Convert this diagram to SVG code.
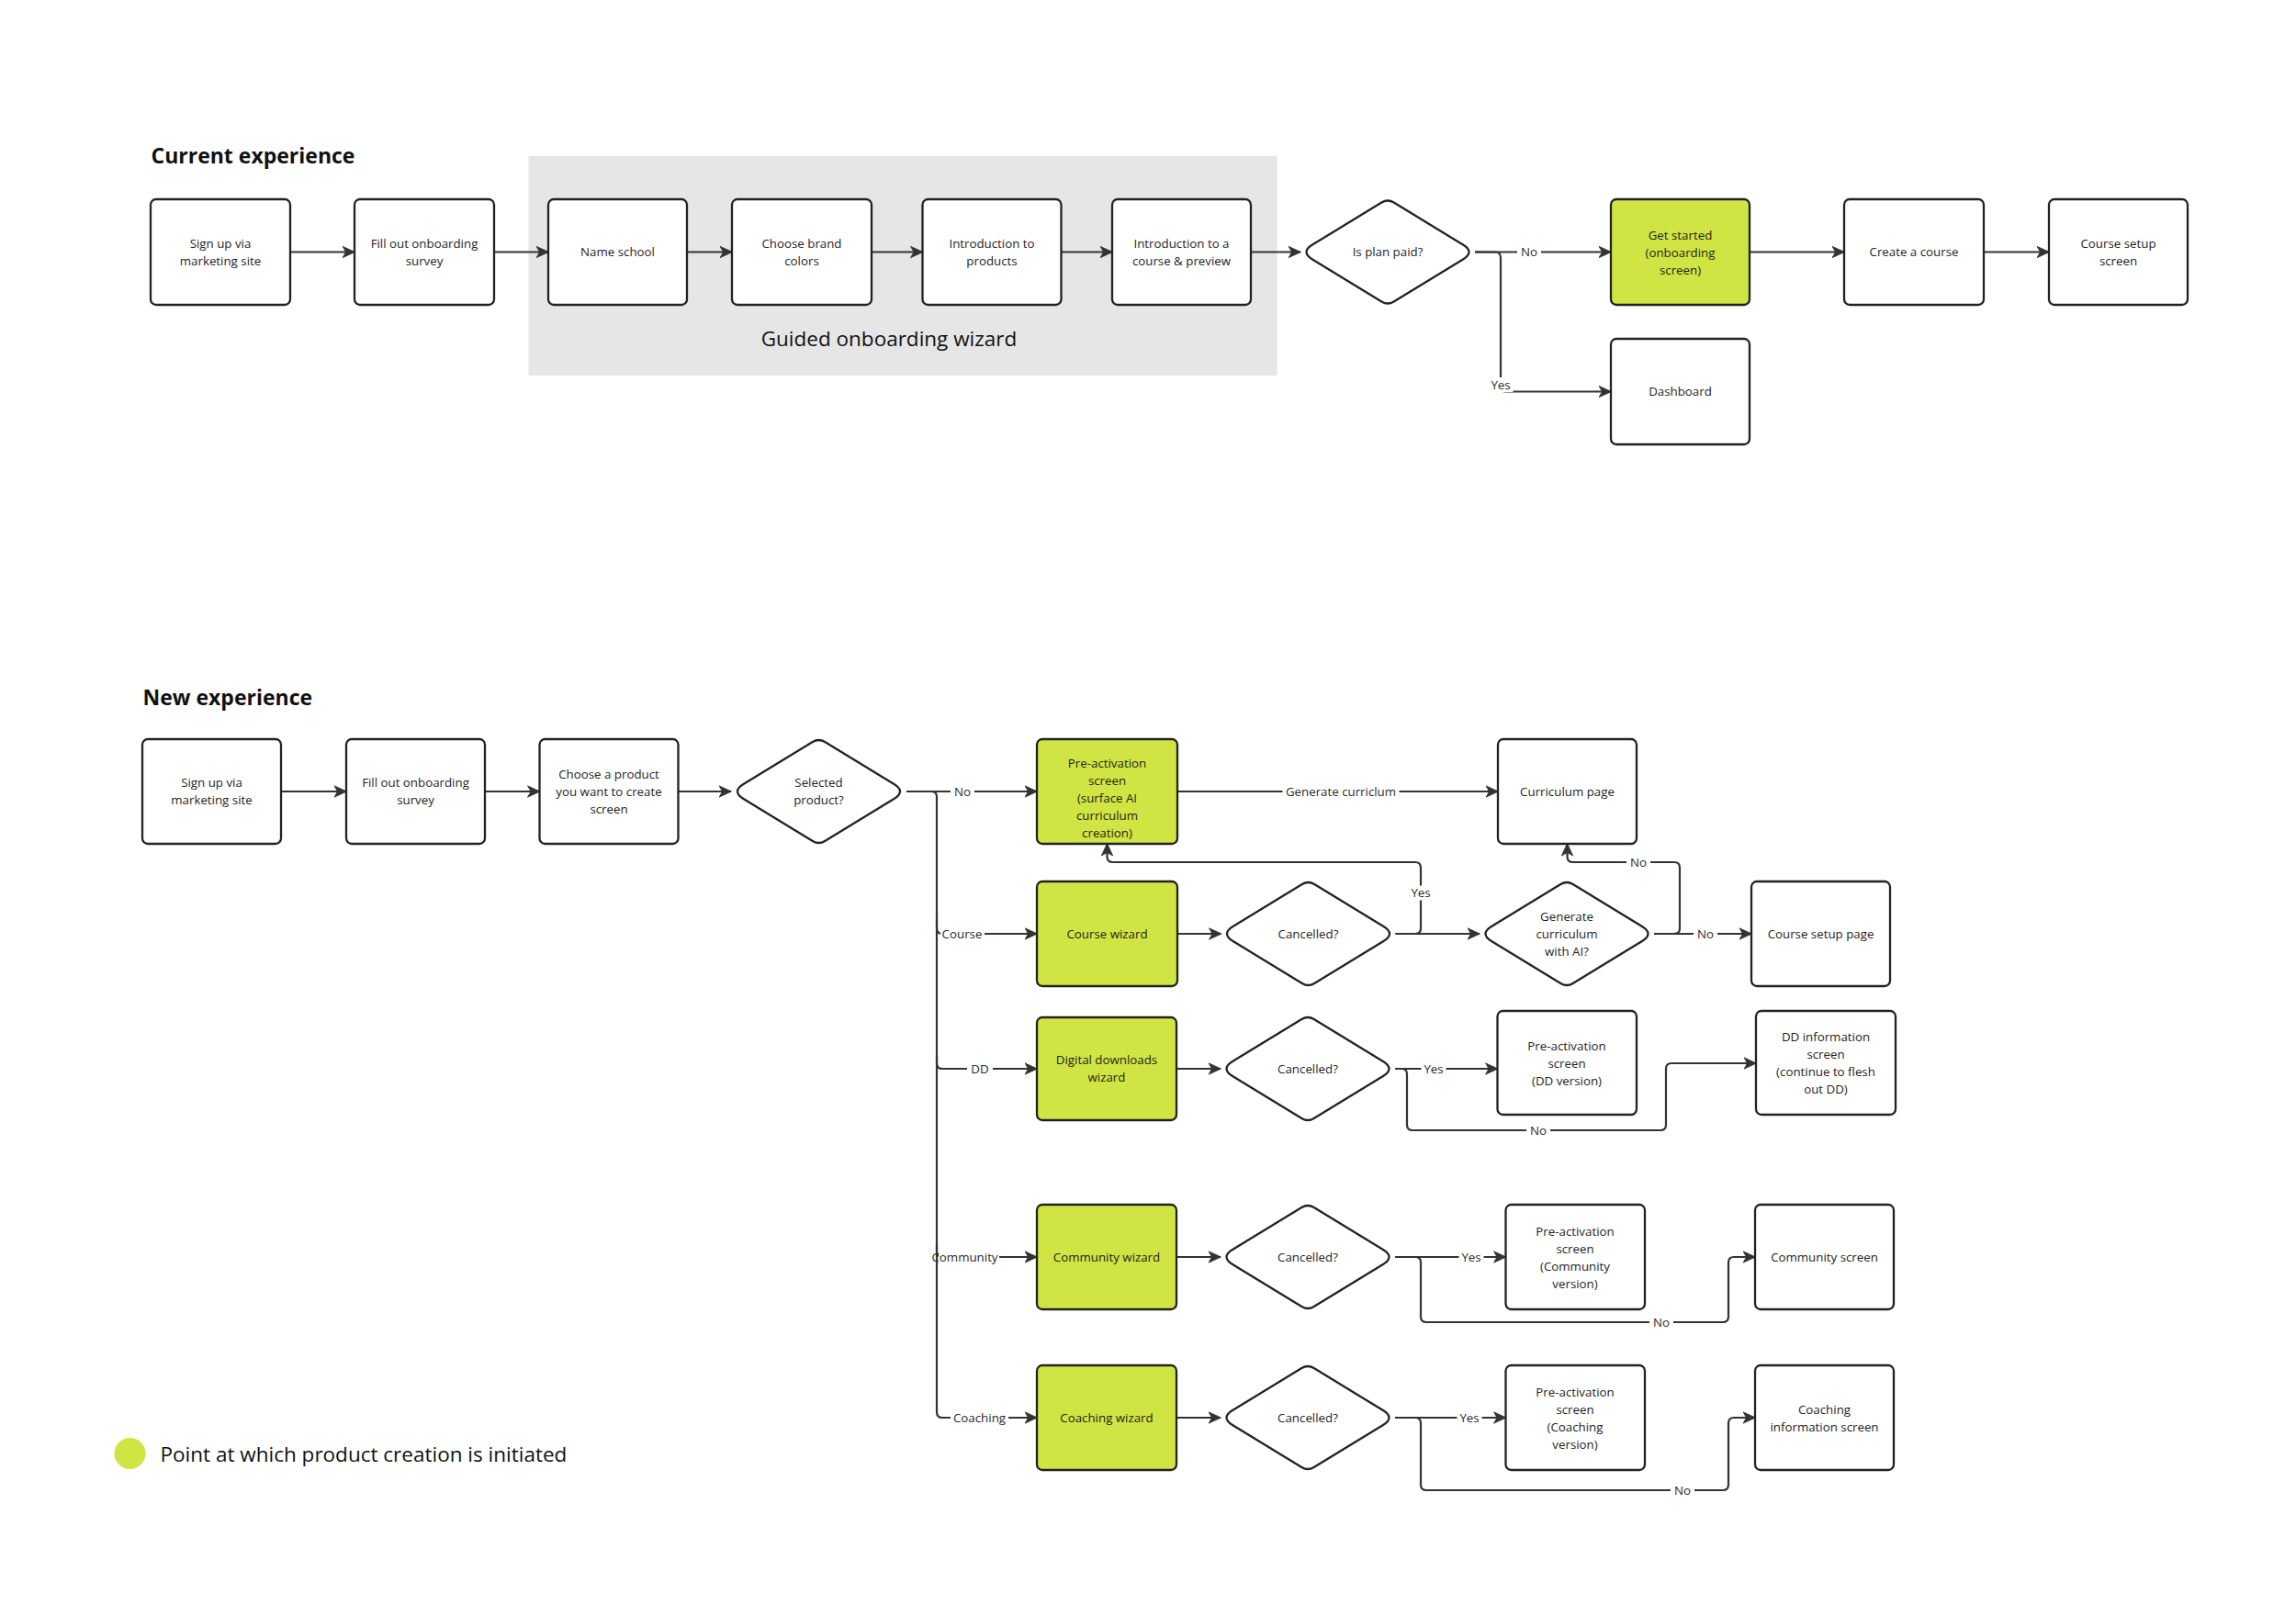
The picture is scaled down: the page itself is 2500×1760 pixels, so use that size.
<svg xmlns="http://www.w3.org/2000/svg" width="2500" height="1760" viewBox="0 0 2500 1760">
<style>
  .bg { fill: #ffffff; }
  .box { fill: #ffffff; stroke: #222222; stroke-width: 2.3; }
  .lime { fill: #d0e543; stroke: #222222; stroke-width: 2.3; }
  .dia { fill: #ffffff; stroke: #222222; stroke-width: 2.3; stroke-linejoin: round; }
  .t { font-family: "Open Sans", "Liberation Sans", sans-serif; font-size: 13.3px; fill: #1e1e1e; text-anchor: middle; }
  .lbl { font-family: "Open Sans", "Liberation Sans", sans-serif; font-size: 13.3px; fill: #2a2a2a; text-anchor: middle; }
  .lb { fill: #ffffff; }
  .title { font-family: "Open Sans", "Liberation Sans", sans-serif; font-size: 23px; font-weight: 700; fill: #111111; }
  .big { font-family: "Open Sans", "Liberation Sans", sans-serif; font-size: 22.5px; fill: #111111; }
  .c { fill: none; stroke: #333333; stroke-width: 2.2; }
  .a { marker-end: url(#ah); }
</style>
<defs>
  <marker id="ah" viewBox="0 0 14 14" refX="13.5" refY="7" markerWidth="14" markerHeight="14" markerUnits="userSpaceOnUse" orient="auto">
    <path d="M0.5,0.8 L14,7 L0.5,13.2 L4,7 z" fill="#333333" stroke="#333333" stroke-width="0.8" stroke-linejoin="round"/>
  </marker>
  <path id="dm" d="M6.65,-53.94 L82,-7.95 Q95,0 82,7.95 L6.65,53.94 Q0,58 -6.65,53.94 L-82,7.95 Q-95,0 -82,-7.95 L-6.65,-53.94 Q0,-58 6.65,-53.94 Z"/>
</defs>
<rect class="bg" x="0" y="0" width="2500" height="1760"/>

<!-- ===== Current experience ===== -->
<text class="title" x="164.5" y="178">Current experience</text>
<g id="wizard-group">
  <rect x="575.5" y="170" width="815" height="239" fill="#e6e6e6"/>
  <text class="big" x="968" y="377" text-anchor="middle" font-size="22">Guided onboarding wizard</text>
</g>

<g id="connectors-current">
  <path class="c a" d="M316,274.5 H386"/>
  <path class="c a" d="M538,274.5 H597"/>
  <path class="c a" d="M748,274.5 H797"/>
  <path class="c a" d="M949,274.5 H1004.5"/>
  <path class="c a" d="M1155.5,274.5 H1211"/>
  <path class="c a" d="M1362,274.5 H1416"/>
  <path class="c a" d="M1606,274.5 H1754"/>
  <path class="c a" d="M1606,274.5 H1628 Q1634,274.5 1634,280.5 V420.5 Q1634,426.5 1640,426.5 H1754"/>
  <path class="c a" d="M1905,274.5 H2008"/>
  <path class="c a" d="M2160,274.5 H2231"/>
  <rect class="lb" x="1652" y="266.5" width="26" height="16"/>
  <text class="lbl" x="1665" y="279">No</text>
  <rect class="lb" x="1620.5" y="411" width="27" height="16"/>
  <text class="lbl" x="1634" y="423.5">Yes</text>
</g>

<g id="c1">
  <rect class="box" x="164" y="217" width="152" height="115" rx="6"/>
  <text class="t"><tspan x="240" y="269.5">Sign up via</tspan><tspan x="240" y="288.5">marketing site</tspan></text>
</g>
<g id="c2">
  <rect class="box" x="386" y="217" width="152" height="115" rx="6"/>
  <text class="t"><tspan x="462" y="269.5">Fill out onboarding</tspan><tspan x="462" y="288.5">survey</tspan></text>
</g>
<g id="c3">
  <rect class="box" x="597" y="217" width="151" height="115" rx="6"/>
  <text class="t" x="672.5" y="279">Name school</text>
</g>
<g id="c4">
  <rect class="box" x="797" y="217" width="152" height="115" rx="6"/>
  <text class="t"><tspan x="873" y="269.5">Choose brand</tspan><tspan x="873" y="288.5">colors</tspan></text>
</g>
<g id="c5">
  <rect class="box" x="1004.5" y="217" width="151" height="115" rx="6"/>
  <text class="t"><tspan x="1080" y="269.5">Introduction to</tspan><tspan x="1080" y="288.5">products</tspan></text>
</g>
<g id="c6">
  <rect class="box" x="1211" y="217" width="151" height="115" rx="6"/>
  <text class="t"><tspan x="1286.5" y="269.5">Introduction to a</tspan><tspan x="1286.5" y="288.5">course &amp; preview</tspan></text>
</g>
<g id="c7">
  <use href="#dm" class="dia" x="1511" y="274.5"/>
  <text class="t" x="1511" y="279">Is plan paid?</text>
</g>
<g id="c8">
  <rect class="lime" x="1754" y="217" width="151" height="115" rx="6"/>
  <text class="t"><tspan x="1829.5" y="260.5">Get started</tspan><tspan x="1829.5" y="279.5">(onboarding</tspan><tspan x="1829.5" y="298.5">screen)</tspan></text>
</g>
<g id="c9">
  <rect class="box" x="2008" y="217" width="152" height="115" rx="6"/>
  <text class="t" x="2084" y="279">Create a course</text>
</g>
<g id="c10">
  <rect class="box" x="2231" y="217" width="151" height="115" rx="6"/>
  <text class="t"><tspan x="2306.5" y="269.5">Course setup</tspan><tspan x="2306.5" y="288.5">screen</tspan></text>
</g>
<g id="c11">
  <rect class="box" x="1754" y="369" width="151" height="115" rx="6"/>
  <text class="t" x="1829.5" y="431">Dashboard</text>
</g>

<!-- ===== New experience ===== -->
<text class="title" x="155.5" y="768">New experience</text>

<g id="connectors-new">
  <path class="c a" d="M306,862 H377"/>
  <path class="c a" d="M528,862 H587.5"/>
  <path class="c a" d="M738.5,862 H796"/>
  <path class="c a" d="M987,862 H1129"/>
  <path class="c a" d="M987,862 H1014 Q1020,862 1020,868 V1538 Q1020,1544 1026,1544 H1129"/>
  <path class="c a" d="M1020,1000 V1011 Q1020,1017 1026,1017 H1129"/>
  <path class="c a" d="M1020,1150 V1158 Q1020,1164 1026,1164 H1129"/>
  <path class="c a" d="M1020,1355 V1363 Q1020,1369 1026,1369 H1129"/>
  <path class="c a" d="M1282,862 H1631"/>

  <path class="c a" d="M1282,1017 H1329.5"/>
  <path class="c a" d="M1519.5,1017 H1611"/>
  <path class="c a" d="M1519.5,1017 H1541 Q1547,1017 1547,1011 V945 Q1547,939 1541,939 H1211.5 Q1205.5,939 1205.5,933 V919"/>
  <path class="c a" d="M1801,1017 H1907"/>
  <path class="c a" d="M1801,1017 H1823 Q1829,1017 1829,1011 V945 Q1829,939 1823,939 H1712.5 Q1706.5,939 1706.5,933 V919"/>

  <path class="c a" d="M1281,1164 H1329"/>
  <path class="c a" d="M1519,1164 H1630.5"/>
  <path class="c a" d="M1519,1164 H1526 Q1532,1164 1532,1170 V1225 Q1532,1231 1538,1231 H1808 Q1814,1231 1814,1225 V1164 Q1814,1158 1820,1158 H1912"/>

  <path class="c a" d="M1281,1369 H1329"/>
  <path class="c a" d="M1519,1369 H1639.5"/>
  <path class="c a" d="M1519,1369 H1541 Q1547,1369 1547,1375 V1434 Q1547,1440 1553,1440 H1876 Q1882,1440 1882,1434 V1375 Q1882,1369 1888,1369 H1911"/>

  <path class="c a" d="M1281,1544 H1329"/>
  <path class="c a" d="M1519,1544 H1639.5"/>
  <path class="c a" d="M1519,1544 H1541 Q1547,1544 1547,1550 V1617 Q1547,1623 1553,1623 H1876 Q1882,1623 1882,1617 V1550 Q1882,1544 1888,1544 H1911"/>

  <rect class="lb" x="1035" y="854" width="26" height="16"/>
  <text class="lbl" x="1048" y="866.5">No</text>
  <rect class="lb" x="1396.5" y="854" width="127" height="16"/>
  <text class="lbl" x="1460" y="866.5">Generate curriclum</text>
  <rect class="lb" x="1024" y="1009" width="48" height="16"/>
  <text class="lbl" x="1047.5" y="1021.5">Course</text>
  <rect class="lb" x="1533.5" y="964.5" width="27" height="16"/>
  <text class="lbl" x="1547" y="977">Yes</text>
  <rect class="lb" x="1844" y="1009" width="26" height="16"/>
  <text class="lbl" x="1857" y="1021.5">No</text>
  <rect class="lb" x="1771" y="931" width="26" height="16"/>
  <text class="lbl" x="1784" y="943.5">No</text>

  <rect class="lb" x="1053" y="1156" width="28" height="16"/>
  <text class="lbl" x="1067" y="1168.5">DD</text>
  <rect class="lb" x="1547.5" y="1156" width="27" height="16"/>
  <text class="lbl" x="1561" y="1168.5">Yes</text>
  <rect class="lb" x="1662" y="1223" width="26" height="16"/>
  <text class="lbl" x="1675" y="1235.5">No</text>

  <rect class="lb" x="1022" y="1361" width="66" height="16"/>
  <text class="lbl" x="1050.5" y="1373.5">Community</text>
  <rect class="lb" x="1588.5" y="1361" width="27" height="16"/>
  <text class="lbl" x="1602" y="1373.5">Yes</text>
  <rect class="lb" x="1796" y="1432" width="26" height="16"/>
  <text class="lbl" x="1809" y="1444.5">No</text>

  <rect class="lb" x="1035" y="1536" width="63" height="16"/>
  <text class="lbl" x="1066.5" y="1548.5">Coaching</text>
  <rect class="lb" x="1586.5" y="1536" width="27" height="16"/>
  <text class="lbl" x="1600" y="1548.5">Yes</text>
  <rect class="lb" x="1819" y="1615" width="26" height="16"/>
  <text class="lbl" x="1832" y="1627.5">No</text>
</g>

<g id="n1">
  <rect class="box" x="155" y="805" width="151" height="114" rx="6"/>
  <text class="t"><tspan x="230.5" y="857">Sign up via</tspan><tspan x="230.5" y="876">marketing site</tspan></text>
</g>
<g id="n2">
  <rect class="box" x="377" y="805" width="151" height="114" rx="6"/>
  <text class="t"><tspan x="452.5" y="857">Fill out onboarding</tspan><tspan x="452.5" y="876">survey</tspan></text>
</g>
<g id="n3">
  <rect class="box" x="587.5" y="805" width="151" height="114" rx="6"/>
  <text class="t"><tspan x="663" y="847.5">Choose a product</tspan><tspan x="663" y="866.5">you want to create</tspan><tspan x="663" y="885.5">screen</tspan></text>
</g>
<g id="n4">
  <use href="#dm" class="dia" x="891.5" y="862"/>
  <text class="t"><tspan x="891.5" y="857">Selected</tspan><tspan x="891.5" y="876">product?</tspan></text>
</g>
<g id="n5">
  <rect class="lime" x="1129" y="805" width="153" height="114" rx="6"/>
  <text class="t"><tspan x="1205.5" y="835.5">Pre-activation</tspan><tspan x="1205.5" y="854.5">screen</tspan><tspan x="1205.5" y="873.5">(surface AI</tspan><tspan x="1205.5" y="892.5">curriculum</tspan><tspan x="1205.5" y="911.5">creation)</tspan></text>
</g>
<g id="n6">
  <rect class="box" x="1631" y="805" width="151" height="114" rx="6"/>
  <text class="t" x="1706.5" y="866.5">Curriculum page</text>
</g>
<g id="n7">
  <rect class="lime" x="1129" y="960" width="153" height="114" rx="6"/>
  <text class="t" x="1205.5" y="1021.5">Course wizard</text>
</g>
<g id="n8">
  <use href="#dm" class="dia" x="1424.5" y="1017"/>
  <text class="t" x="1424.5" y="1021.5">Cancelled?</text>
</g>
<g id="n9">
  <use href="#dm" class="dia" x="1706" y="1017"/>
  <text class="t"><tspan x="1706" y="1003">Generate</tspan><tspan x="1706" y="1022">curriculum</tspan><tspan x="1706" y="1041">with AI?</tspan></text>
</g>
<g id="n10">
  <rect class="box" x="1907" y="960" width="151" height="114" rx="6"/>
  <text class="t" x="1982.5" y="1021.5">Course setup page</text>
</g>
<g id="n11">
  <rect class="lime" x="1129" y="1108" width="152" height="112" rx="6"/>
  <text class="t"><tspan x="1205" y="1159">Digital downloads</tspan><tspan x="1205" y="1178">wizard</tspan></text>
</g>
<g id="n12">
  <use href="#dm" class="dia" x="1424" y="1164"/>
  <text class="t" x="1424" y="1168.5">Cancelled?</text>
</g>
<g id="n13">
  <rect class="box" x="1630.5" y="1101" width="151.5" height="113" rx="6"/>
  <text class="t"><tspan x="1706" y="1143.5">Pre-activation</tspan><tspan x="1706" y="1162.5">screen</tspan><tspan x="1706" y="1181.5">(DD version)</tspan></text>
</g>
<g id="n14">
  <rect class="box" x="1912" y="1101" width="152" height="113" rx="6"/>
  <text class="t"><tspan x="1988" y="1134">DD information</tspan><tspan x="1988" y="1153">screen</tspan><tspan x="1988" y="1172">(continue to flesh</tspan><tspan x="1988" y="1191">out DD)</tspan></text>
</g>
<g id="n15">
  <rect class="lime" x="1129" y="1312" width="152" height="114" rx="6"/>
  <text class="t" x="1205" y="1373.5">Community wizard</text>
</g>
<g id="n16">
  <use href="#dm" class="dia" x="1424" y="1369"/>
  <text class="t" x="1424" y="1373.5">Cancelled?</text>
</g>
<g id="n17">
  <rect class="box" x="1639.5" y="1312" width="151.5" height="114" rx="6"/>
  <text class="t"><tspan x="1715" y="1345.5">Pre-activation</tspan><tspan x="1715" y="1364.5">screen</tspan><tspan x="1715" y="1383.5">(Community</tspan><tspan x="1715" y="1402.5">version)</tspan></text>
</g>
<g id="n18">
  <rect class="box" x="1911" y="1312" width="151" height="114" rx="6"/>
  <text class="t" x="1986.5" y="1373.5">Community screen</text>
</g>
<g id="n19">
  <rect class="lime" x="1129" y="1487" width="152" height="114" rx="6"/>
  <text class="t" x="1205" y="1548.5">Coaching wizard</text>
</g>
<g id="n20">
  <use href="#dm" class="dia" x="1424" y="1544"/>
  <text class="t" x="1424" y="1548.5">Cancelled?</text>
</g>
<g id="n21">
  <rect class="box" x="1639.5" y="1487" width="151.5" height="114" rx="6"/>
  <text class="t"><tspan x="1715" y="1520.5">Pre-activation</tspan><tspan x="1715" y="1539.5">screen</tspan><tspan x="1715" y="1558.5">(Coaching</tspan><tspan x="1715" y="1577.5">version)</tspan></text>
</g>
<g id="n22">
  <rect class="box" x="1911" y="1487" width="151" height="114" rx="6"/>
  <text class="t"><tspan x="1986.5" y="1539.5">Coaching</tspan><tspan x="1986.5" y="1558.5">information screen</tspan></text>
</g>

<g id="legend">
  <circle cx="141.5" cy="1583" r="17" fill="#d0e543"/>
  <text class="big" x="174.5" y="1592">Point at which product creation is initiated</text>
</g>
</svg>
